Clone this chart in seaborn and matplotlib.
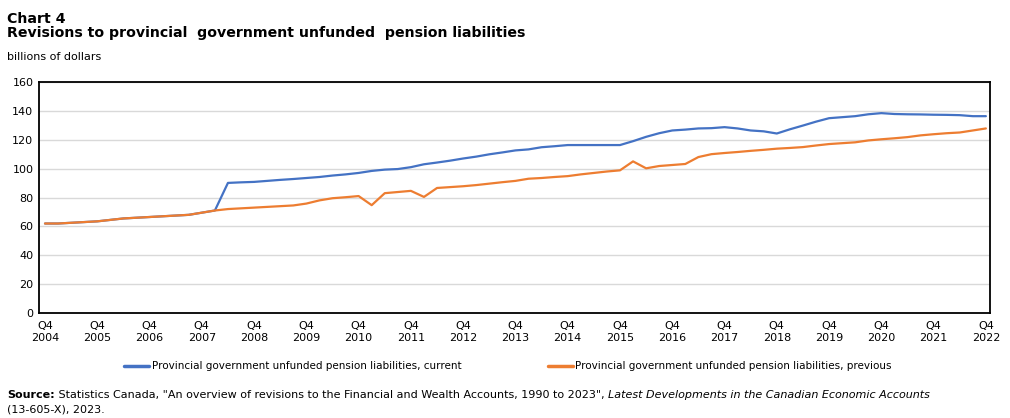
import numpy as np
import pandas as pd
import matplotlib
matplotlib.use("Agg")
import matplotlib.pyplot as plt
import seaborn as sns

# ------------------------------------------------------------
# Data: quarterly, Q4 2004 to Q4 2022 (billions of dollars)
# ------------------------------------------------------------
years = [2004, 2005, 2006, 2007, 2008, 2009, 2010, 2011, 2012, 2013,
         2014, 2015, 2016, 2017, 2018, 2019, 2020, 2021, 2022]

previous = [62.0, 62.0, 62.5, 63.0, 63.5, 64.5, 65.5, 66.0, 66.5, 67.0,
            67.5, 68.0, 69.5, 71.0, 72.0, 72.5, 73.0, 73.5, 74.0, 74.5,
            75.8, 78.0, 79.5, 80.2, 81.0, 74.7, 83.0, 83.8, 84.6, 80.4,
            86.6, 87.2, 87.8, 88.6, 89.6, 90.6, 91.5, 93.0, 93.5, 94.2,
            94.8, 96.0, 97.0, 98.0, 98.8, 105.0, 100.2, 101.8, 102.5, 103.2,
            108.0, 110.0, 110.8, 111.5, 112.3, 113.0, 113.8, 114.3, 114.9, 116.0,
            117.0, 117.6, 118.2, 119.5, 120.3, 121.0, 121.8, 123.0, 123.8, 124.5,
            125.0, 126.4, 127.8]

current = [62.0, 62.0, 62.5, 63.0, 63.5, 64.5, 65.5, 66.0, 66.5, 67.0,
           67.5, 68.0, 69.5, 71.0, 90.1, 90.5, 90.8, 91.5, 92.2, 92.8,
           93.5, 94.2, 95.2, 96.0, 97.0, 98.4, 99.3, 99.7, 101.0, 103.0,
           104.2, 105.5, 107.0, 108.3, 109.9, 111.2, 112.6, 113.3, 114.8, 115.5,
           116.3, 116.3, 116.3, 116.3, 116.3, 119.0, 122.0, 124.5, 126.4, 127.0,
           127.8, 128.0, 128.7, 127.8, 126.4, 125.8, 124.3, 127.2, 129.8, 132.5,
           134.9, 135.6, 136.3, 137.6, 138.4, 137.8, 137.6, 137.5, 137.3, 137.2,
           137.0, 136.3, 136.3]

label_cur = "Provincial government unfunded pension liabilities, current"
label_prev = "Provincial government unfunded pension liabilities, previous"

quarter = np.arange(len(current))
df = pd.DataFrame({
    "quarter": np.concatenate([quarter, quarter]),
    "value": current + previous,
    "series": [label_cur] * len(current) + [label_prev] * len(previous),
})

# ------------------------------------------------------------
# Figure
# ------------------------------------------------------------
sns.set_theme(style="white")
plt.rcParams["font.family"] = ["DejaVu Sans"]
plt.rcParams["text.color"] = "black"

fig = plt.figure(figsize=(10.1, 4.18), dpi=100)
ax = fig.add_axes([0.0386, 0.251, 0.9414, 0.553])

sns.lineplot(data=df, x="quarter", y="value", hue="series",
             palette=["#4472C4", "#ED7D31"], linewidth=1.6, ax=ax, legend=False)

ax.set_xlim(-0.46, 72.3)
ax.set_ylim(0, 160)
ax.set_yticks(range(0, 161, 20))
ax.set_xticks(range(0, 73, 4))
ax.set_xticklabels([f"Q4\n{y}" for y in years])
ax.tick_params(axis="both", length=0, labelsize=8, colors="black", pad=4)
ax.tick_params(axis="x", pad=6)
ax.grid(axis="y", color="#d9d9d9", linewidth=1)
ax.set_xlabel("")
ax.set_ylabel("")
for s in ax.spines.values():
    s.set_color("black")
    s.set_linewidth(1.3)

# legend
handles = [plt.Line2D([], [], color="#4472C4", linewidth=2.5),
           plt.Line2D([], [], color="#ED7D31", linewidth=2.5)]
fig.legend(handles, [label_cur, label_prev], loc="center", ncol=2,
           bbox_to_anchor=(0.503, 0.124), frameon=False, fontsize=7.5,
           handlelength=2.4, handletextpad=0.25, columnspacing=8.3)

# titles
fig.text(0.007, 0.972, "Chart 4", fontsize=10.2, fontweight="bold", va="top")
fig.text(0.007, 0.937, "Revisions to provincial  government unfunded  pension liabilities",
         fontsize=10.2, fontweight="bold", va="top")
fig.text(0.007, 0.875, "billions of dollars", fontsize=8, va="top")

# source note, pieces placed one after another
fig.canvas.draw()
renderer = fig.canvas.get_renderer()


def run_text(x, y, pieces):
    for txt, kw in pieces:
        t = fig.text(x, y, txt, fontsize=8, va="baseline", **kw)
        bb = t.get_window_extent(renderer)
        x += bb.width / fig.bbox.width


run_text(0.007, 0.047, [
    ("Source:", {"fontweight": "bold"}),
    (" Statistics Canada, \"An overview of revisions to the Financial and Wealth Accounts, 1990 to 2023\", ", {}),
    ("Latest Developments in the Canadian Economic Accounts", {"style": "italic"}),
])
fig.text(0.007, 0.013, "(13-605-X), 2023.", fontsize=8, va="baseline")

fig.savefig("out.png", dpi=100)
